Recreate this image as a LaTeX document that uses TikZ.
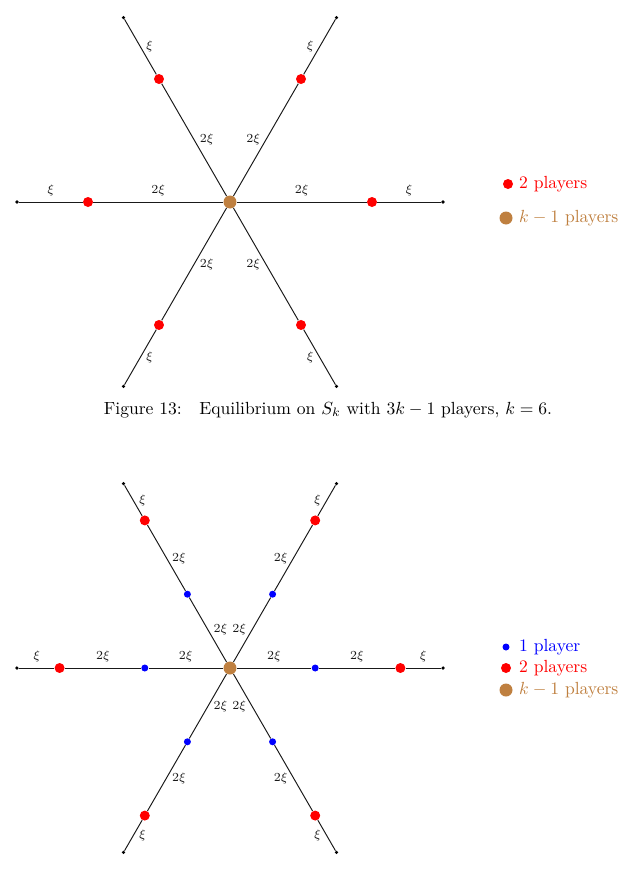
\documentclass[tikz,border=0pt]{standalone}
\usepackage{tikz}
\usetikzlibrary{positioning}

\begin{document}
\begin{tikzpicture}[
      armline/.style={line width=0.55pt, black!90},
      enddot/.style={circle, fill=black, inner sep=0pt, minimum size=2pt},
      bluedot/.style={circle, fill=blue, inner sep=0pt, minimum size=0.14cm},
      reddot/.style={circle, fill=red, inner sep=0pt, minimum size=0.2cm},
      ctrdot/.style={circle, fill=brown, inner sep=0pt, minimum size=0.26cm},
      elab/.style={font=\scriptsize, inner sep=1pt},
      sideh/.style={above=2pt},
      sidel/.style={left=2pt},
      sider/.style={right=2pt},
      legtext/.style={anchor=west}
    ]
      \useasboundingbox (-4.6,-13.36) rectangle (8.0,4.04);

      % Star S_k with 3k-1 players
      \node[ctrdot] (c1) at (0,0) {};
      \foreach \a/\s in {0/sideh, 60/sidel, 120/sider, 180/sideh, 240/sider, 300/sidel}{
        \node[reddot] (r1-\a) at (\a:2.84) {};
        \node[enddot] (e1-\a) at (\a:4.26) {};
        \draw[armline] (c1) -- node[elab,\s] {$2\xi$} (r1-\a) -- node[elab,\s] {$\xi$} (e1-\a);
      }

      % Legend
      \node[reddot] (lr1) at (5.56,0.36) {};
      \node[legtext, text=red] (tr1) at (5.66,0.36) {2 players};
      \node[ctrdot] (lc1) at (5.52,-0.32) {};
      \node[legtext, text=brown] (tc1) at (5.66,-0.32) {$k-1$ players};

      % Caption
      \node (cap) at (1.96,-4.16) {Figure 13:\quad Equilibrium on $S_k$ with $3k-1$ players, $k=6$.};

      % Star S_k with 4k-1 players
      \begin{scope}[shift={(0,-9.32)}]
        \node[ctrdot] (c2) at (0,0) {};
        \foreach \a/\s in {0/sideh, 60/sidel, 120/sider, 180/sideh, 240/sider, 300/sidel}{
          \node[bluedot] (b2-\a) at (\a:1.704) {};
          \node[reddot] (r2-\a) at (\a:3.408) {};
          \node[enddot] (e2-\a) at (\a:4.26) {};
          \draw[armline] (c2) -- node[elab,\s] {$2\xi$} (b2-\a)
            -- node[elab,\s] {$2\xi$} (r2-\a) -- node[elab,\s] {$\xi$} (e2-\a);
        }

        % Legend
        \node[bluedot] (lb2) at (5.52,0.42) {};
        \node[legtext, text=blue] (tb2) at (5.66,0.42) {1 player};
        \node[reddot] (lr2) at (5.52,0) {};
        \node[legtext, text=red] (tr2) at (5.66,0) {2 players};
        \node[ctrdot] (lc2) at (5.52,-0.44) {};
        \node[legtext, text=brown] (tc2) at (5.66,-0.44) {$k-1$ players};
      \end{scope}
    \end{tikzpicture}
\end{document}
